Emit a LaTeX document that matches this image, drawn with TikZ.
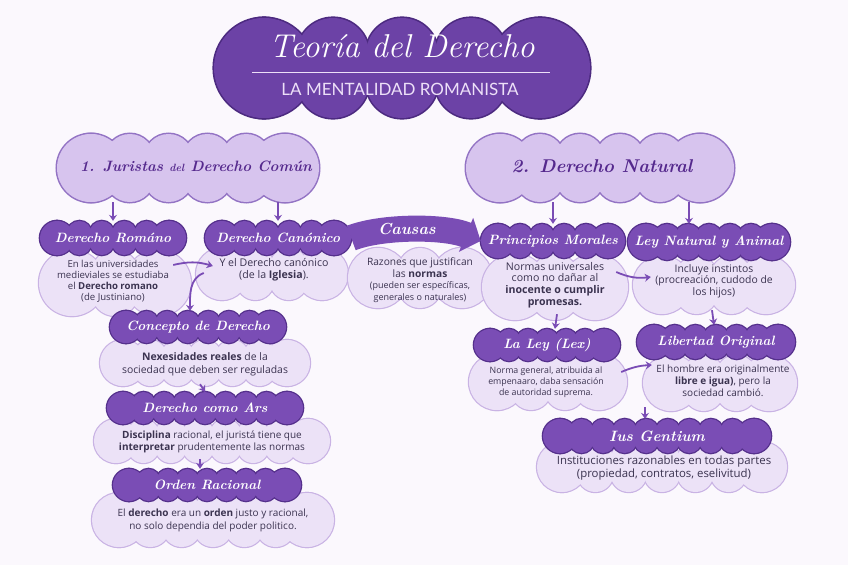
\documentclass[tikz,border=0pt]{standalone}
\usepackage{xcolor}
\usepackage{fontspec}
\newfontfamily\bodyfont{Open Sans}
\newfontfamily\capsfont{Lato}
\usepackage{tikz}
\usetikzlibrary{positioning,arrows.meta,calc}

\definecolor{paper}{HTML}{FBF8FD}
\definecolor{titlefill}{HTML}{6C42A6}
\definecolor{titleline}{HTML}{4C2A80}
\definecolor{hdrfill}{HTML}{7A4DB5}
\definecolor{hdrline}{HTML}{55308C}
\definecolor{secfill}{HTML}{D7C4EE}
\definecolor{secline}{HTML}{9373C4}
\definecolor{sectext}{HTML}{55298D}
\definecolor{bodyfill}{HTML}{ECE2F7}
\definecolor{bodyline}{HTML}{C9B3E4}
\definecolor{txt}{HTML}{3B3350}
\definecolor{arrowc}{HTML}{7A4CB5}
\definecolor{subtxt}{HTML}{EDE0F8}

% name, x, y, width, height, fill, line, doubled line width
\newcommand{\puffy}[8]{%
  \node[minimum width=#4pt, minimum height=#5pt, inner sep=0pt] (#1) at (#2,#3) {};
  \pgfmathsetmacro\pre{#5/2}
  \pgfmathsetmacro\prt{#5*0.36}
  \pgfmathsetmacro\pspan{#4-2*\pre}
  \pgfmathtruncatemacro\pnk{max(2,round(\pspan/(1.75*\prt))+1)}
  \pgfmathtruncatemacro\pnkm{\pnk-1}
  \pgfmathsetmacro\pstep{\pspan/\pnkm}
  \foreach \pass in {1,2}{
    \ifnum\pass=1 \tikzset{puffpass/.style={fill=#6, draw=#7, line width=#8}}%
    \else \tikzset{puffpass/.style={fill=#6}}\fi
    \path[puffpass] (#2-#4/2+\pre,#3) circle[radius=\pre] (#2+#4/2-\pre,#3) circle[radius=\pre];
    \foreach \i in {0,...,\pnkm}{
      \path[puffpass] (#2-\pspan/2+\i*\pstep, #3-#5/2+\prt) circle[radius=\prt]
                      (#2-\pspan/2+\i*\pstep, #3+#5/2-\prt) circle[radius=\prt];
    }
    \ifnum\pass=2 \fill[#6] (#2-\pspan/2,#3-#5/2+\prt) rectangle (#2+\pspan/2,#3+#5/2-\prt);\fi
  }
}
\newcommand{\hdrcloud}[5]{\puffy{#1}{#2}{#3}{#4}{#5}{hdrfill}{hdrline}{2.6pt}}
\newcommand{\bodycloud}[5]{\puffy{#1}{#2}{#3}{#4}{#5}{bodyfill}{bodyline}{2.4pt}}
\newcommand{\seccloud}[5]{\puffy{#1}{#2}{#3}{#4}{#5}{secfill}{secline}{3pt}}

\begin{document}
\begin{tikzpicture}[
  x=1pt, y=-1pt,
  sectxt/.style={font=\bfseries\itshape\fontsize{15}{15}\selectfont, text=sectext},
  hdrtxt/.style={font=\bfseries\itshape\fontsize{13.5}{14}\selectfont, text=white},
  bodytxt/.style={font=\bodyfont\fontsize{10.4}{11.2}\selectfont, text=txt, align=center},
  arrow/.style={-{Stealth[length=6pt,width=8pt]}, line width=1.8pt, draw=arrowc},
  causasband/.style={-{Triangle[length=16pt,width=36pt]}, line width=26pt, draw=hdrfill}
]
  \fill[paper] (0,0) rectangle (848,565);
  \useasboundingbox (0,0) rectangle (848,565);

  \puffy{title}{402}{68}{376}{100}{titlefill}{titleline}{3.2pt}
  \node[font=\itshape\fontsize{33}{33}\selectfont, text=white] (titletxt) at (402,46) {Teoría del Derecho};
  \node[font=\capsfont\fontsize{17}{17}\selectfont, text=subtxt] (titlesub) at (400,89) {LA MENTALIDAD ROMANISTA};
  \coordinate (rulel) at (252,72);
  \coordinate (ruler) at (550,72);
  \draw[subtxt, line width=1pt] (rulel) -- (ruler);

  \seccloud{sec1}{188}{168}{262}{68}
  \node[sectxt] (sec1txt) at (196,166) {1. Juristas {\fontsize{10.5}{11}\selectfont del} Derecho Común};
  \seccloud{sec2}{600}{168}{268}{68}
  \node[sectxt, font=\bfseries\itshape\fontsize{18.5}{18}\selectfont] (sec2txt) at (602,166) {2. Derecho Natural};

  \bodycloud{romanob}{115}{283}{152}{66}
  \bodycloud{canonb}{272}{274}{152}{52}
  \bodycloud{causasb}{420}{278}{144}{60}
  \bodycloud{princb}{555}{287}{146}{66}
  \bodycloud{leyb}{714}{285}{162}{58}
  \bodycloud{lexb}{548}{382}{158}{56}
  \bodycloud{libb}{720}{383}{154}{56}
  \bodycloud{iusb}{662}{467}{250}{50}
  \bodycloud{concb}{205}{363}{210}{46}
  \bodycloud{arsb}{212}{441}{236}{44}
  \bodycloud{ordenb}{213}{520}{242}{54}

  \hdrcloud{romano}{113}{238}{146}{34}
  \hdrcloud{canon}{278}{238}{146}{34}
  \hdrcloud{princ}{553}{241}{144}{34}
  \hdrcloud{leynat}{709}{242}{162}{36}
  \hdrcloud{lex}{547}{345}{146}{32}
  \hdrcloud{lib}{716}{342}{158}{34}
  \hdrcloud{ius}{657}{436}{228}{34}
  \hdrcloud{conc}{198}{327}{176}{32}
  \hdrcloud{ars}{205}{408}{196}{32}
  \hdrcloud{orden}{207}{485}{188}{32}

  \draw[causasband] (canon.east) .. controls (382,226) and (445,226) .. (princ.west)
    node[pos=0.45, hdrtxt, font=\bfseries\itshape\fontsize{16}{16}\selectfont] (causas) {Causas};

  \node[hdrtxt] (romanotxt) at (romano) {Derecho Románo};
  \node[hdrtxt] (canontxt) at (canon) {Derecho Canónico};
  \node[hdrtxt] (princtxt) at (princ) {Principios Morales};
  \node[hdrtxt] (leynattxt) at (leynat) {Ley Natural y Animal};
  \node[hdrtxt] (lextxt) at (lex) {La Ley (Lex)};
  \node[hdrtxt] (libtxt) at (lib) {Libertad Original};
  \node[hdrtxt, font=\bfseries\itshape\fontsize{15}{15}\selectfont] (iustxt) at (ius) {Ius Gentium};
  \node[hdrtxt] (conctxt) at (conc) {Concepto de Derecho};
  \node[hdrtxt] (arstxt) at (ars) {Derecho como Ars};
  \node[hdrtxt] (ordentxt) at (orden) {Orden Racional};

  \node[bodytxt, font=\bodyfont\fontsize{9.6}{11}\selectfont] (romanobtxt) at (113,281) {En las universidades\\medieviales se estudiaba\\el \textbf{Derecho romano}\\(de Justiniano)};
  \node[bodytxt, font=\bodyfont\fontsize{10.6}{12}\selectfont] (canonbtxt) at (274,270) {Y el Derecho canónico\\(de la \textbf{Iglesia}).};
  \node[bodytxt, font=\bodyfont\fontsize{10.2}{11.5}\selectfont] (causasbtxt) at (420,280) {Razones que justifican\\las \textbf{normas}\\{\fontsize{9}{10.5}\selectfont (pueden ser específicas,}\\{\fontsize{9}{10.5}\selectfont generales o naturales)}};
  \node[bodytxt, font=\bodyfont\fontsize{10.6}{11.7}\selectfont] (princbtxt) at (555,285) {Normas universales\\como no dañar al\\\textbf{inocente o cumplir}\\\textbf{promesas.}};
  \node[bodytxt, font=\bodyfont\fontsize{10.4}{11.5}\selectfont] (leybtxt) at (714,281) {Incluye instintos\\(procreación, cudodo de\\los hijos)};
  \node[bodytxt, font=\bodyfont\fontsize{8.8}{11}\selectfont] (lexbtxt) at (546,382) {Norma general, atribuida al\\empenaaro, daba sensación\\de autoridad suprema.};
  \node[bodytxt, font=\bodyfont\fontsize{10}{12}\selectfont] (libbtxt) at (723,381) {El hombre era originalmente\\\textbf{libre e igua)}, pero la\\sociedad cambió.};
  \node[bodytxt, font=\bodyfont\fontsize{11.4}{13}\selectfont] (iusbtxt) at (664,468) {Instituciones razonables en todas partes\\(propiedad, contratos, eselivitud)};
  \node[bodytxt, font=\bodyfont\fontsize{10.4}{13}\selectfont] (concbtxt) at (205,364) {\textbf{Nexesidades reales} de la\\sociedad que deben ser reguladas};
  \node[bodytxt, font=\bodyfont\fontsize{10}{12}\selectfont] (arsbtxt) at (212,442) {\textbf{Disciplina} racional, el juristá tiene que\\\textbf{interpretar} prudentemente las normas};
  \node[bodytxt, font=\bodyfont\fontsize{10}{13}\selectfont] (ordenbtxt) at (213,520) {El \textbf{derecho} era un \textbf{orden} justo y racional,\\no solo dependia del poder politico.};

  \draw[arrow] (sec1.south -| romano) -- (romano.north);
  \draw[arrow] (sec1.south -| canon) -- (canon.north);
  \draw[arrow] (sec2.south -| princ) -- (princ.north);
  \draw[arrow] ($(sec2.south -| leynat)+(-20,0)$) -- ($(leynat.north)+(-20,0)$);

  \draw[arrow] ($(romanob.east)+(-18,-18)$) to[bend left=15] ($(canonb.west)+(17,-8)$);
  \draw[arrow] ($(canonb.west)+(8,-1)$) to[out=200, in=90] ($(conc.north)+(-8,0)$);
  \draw[arrow] ($(princb.east)+(-12,-15)$) to[bend right=15] ($(leyb.west)+(18,-8)$);
  \draw[arrow] ($(princb.south)+(2,-6)$) -- (lex.north -| princb.south);
  \draw[arrow] ($(leyb.south)+(-2,-4)$) -- (lib.north -| leyb.south);
  \draw[arrow] ($(lexb.east)+(-6,-10)$) to[bend left=10] ($(libb.west)+(9,-18)$);
  \draw[arrow] ($(ius.north |- libb.south)+(-12,-4)$) -- ($(ius.north)+(-12,0)$);
  \draw[arrow] ($(concb.south)+(-5,-2)$) -- (ars.north -| concb.south);
  \draw[arrow] ($(arsb.south -| ars)+(-5,-4)$) -- ($(orden.north)+(-7,0)$);
\end{tikzpicture}
\end{document}
